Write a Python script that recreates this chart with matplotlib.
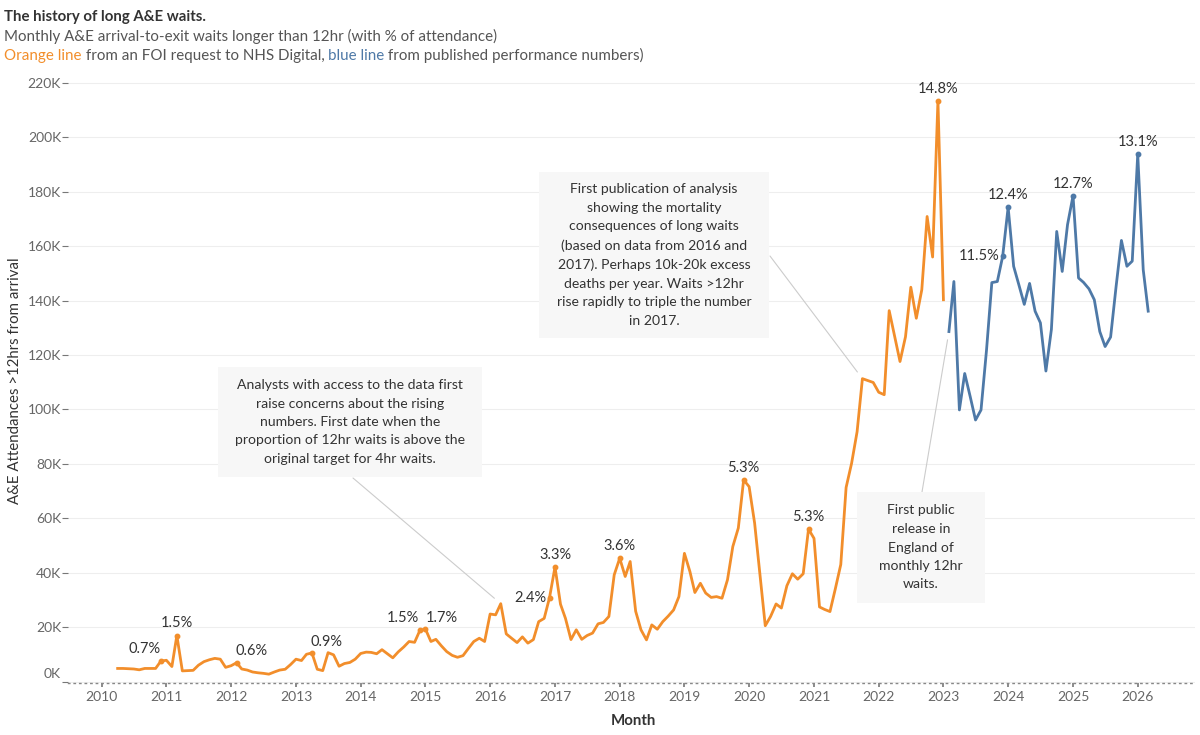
import numpy as np
import pandas as pd
import matplotlib
matplotlib.use("Agg")
import matplotlib.pyplot as plt
import matplotlib.dates as mdates
import matplotlib.transforms as mtransforms
from matplotlib.ticker import FuncFormatter
from matplotlib.patches import Rectangle

plt.rcParams['font.family'] = ['Lato', 'DejaVu Sans']

# monthly waits >12hr from arrival, thousands
orange_start = "2010-04-01"
orange_vals = [
    4.8, 4.8, 4.7, 4.6, 4.3, 4.8, 4.8, 4.8, 7.5,            # 2010 Apr-Dec
    7.8, 5.5, 16.9, 3.9, 4.0, 4.1, 6.0, 7.3, 8.0, 8.5, 8.2, 5.2,   # 2011
    5.8, 6.9, 4.6, 4.2, 3.5, 3.2, 3.0, 2.7, 3.5, 4.2, 4.5, 6.2,    # 2012
    8.2, 7.7, 10.0, 10.5, 4.5, 4.0, 10.6, 9.8, 5.6, 6.6, 7.0, 8.2,  # 2013
    10.3, 10.8, 10.7, 10.2, 11.7, 10.2, 8.7, 10.9, 12.7, 14.7, 14.4, 18.8,  # 2014
    19.3, 14.7, 15.5, 13.1, 11.0, 9.6, 8.9, 9.5, 12.2, 14.7, 15.9, 14.7,   # 2015
    24.8, 24.5, 28.6, 17.5, 15.9, 14.3, 16.4, 14.1, 15.4, 22.0, 23.2, 30.8,  # 2016
    42.1, 28.4, 23.2, 15.4, 19.0, 15.5, 16.9, 17.8, 21.2, 21.7, 23.9, 39.2,  # 2017
    45.3, 38.6, 44.1, 25.8, 19.0, 15.3, 20.8, 19.2, 22.0, 24.0, 26.3, 31.2,  # 2018
    47.1, 40.4, 32.7, 36.1, 32.5, 30.9, 31.2, 30.6, 37.4, 49.6, 56.4, 74.1,  # 2019
    71.6, 58.2, 39.8, 20.5, 23.9, 28.5, 27.0, 35.2, 39.6, 37.6, 39.6, 56.0,  # 2020
    52.6, 27.4, 26.5, 25.7, 34.0, 43.0, 71.3, 80.2, 91.8, 111.3, 110.6, 109.9,  # 2021
    106.3, 105.4, 136.3, 126.8, 117.6, 126.7, 144.9, 133.5, 144.0, 170.9, 156.0, 213.5,  # 2022
    140.3,  # 2023 Jan
]
blue_start = "2023-02-01"
blue_vals = [
    128.6, 147.0, 99.8, 113.2, 104.7, 96.1, 99.8, 121.8, 146.6, 147.0, 156.2,  # 2023 Feb-Dec
    174.3, 152.6, 145.9, 138.6, 146.3, 136.1, 131.8, 114.1, 129.4, 165.4, 150.7, 167.9,  # 2024
    178.5, 148.3, 146.7, 144.3, 140.3, 128.6, 123.1, 126.6, 145.2, 162.1, 152.6, 154.5,  # 2025
    193.8, 151.3, 136.1,  # 2026
]

orange_label_months = ["2010-12", "2011-03", "2012-02", "2013-04", "2014-12", "2015-01",
                       "2016-12", "2017-01", "2018-01", "2019-12", "2020-12", "2022-12"]
orange_label_text = ["0.7%", "1.5%", "0.6%", "0.9%", "1.5%", "1.7%",
                     "2.4%", "3.3%", "3.6%", "5.3%", "5.3%", "14.8%"]
blue_label_months = ["2023-12", "2024-01", "2025-01", "2026-01"]
blue_label_text = ["11.5%", "12.4%", "12.7%", "13.1%"]

y_ticks = list(range(0, 221, 20))

notes = [
    "Analysts with access to the data first\nraise concerns about the rising\nnumbers. First date when the\n"
    "proportion of 12hr waits is above the\noriginal target for 4hr waits.",
    "First publication of analysis\nshowing the mortality\nconsequences of long waits\n(based on data from 2016 and\n"
    "2017). Perhaps 10k-20k excess\ndeaths per year. Waits >12hr\nrise rapidly to triple the number\nin 2017.",
    "First public\nrelease in\nEngland of\nmonthly 12hr\nwaits.",
]
note_months = ["2016-03", "2021-10", "2023-02"]

ORANGE = "#F28E2B"
BLUE = "#4E79A7"
W, H = 1200, 735

orange = pd.Series(orange_vals, index=pd.date_range(orange_start, periods=len(orange_vals), freq="MS"))
blue = pd.Series(blue_vals, index=pd.date_range(blue_start, periods=len(blue_vals), freq="MS"))
both = pd.concat([orange, blue])

fig = plt.figure(figsize=(12, 7.35), dpi=100)


def fx(x):
    return x / W


def fy(y):
    return 1 - y / H


ax = fig.add_axes([fx(68), fy(683), (1195 - 68) / W, (683 - 72) / H])
ax.plot(orange.index, orange.values, color=ORANGE, lw=2.0, solid_joinstyle="round")
ax.plot(blue.index, blue.values, color=BLUE, lw=2.0, solid_joinstyle="round")

ax.set_xlim(pd.Timestamp("2009-06-25"), pd.Timestamp("2026-11-20"))
ax.set_ylim(-0.55, 224)

# percentage labels
offsets_o = [(-16, 12, "center"), (0, 13, "center"), (15, 12, "center"), (15, 11, "center"),
             (-17, 12, "center"), (16, 11, "center"), (-3, 0, "right"), (0, 12, "center"),
             (0, 12, "center"), (0, 12, "center"), (0, 12, "center"), (0, 12, "center")]
offsets_b = [(-3, 0, "right"), (0, 12, "center"), (0, 12, "center"), (0, 12, "center")]
for series, months, texts, offs, col in [(orange, orange_label_months, orange_label_text, offsets_o, ORANGE),
                                         (blue, blue_label_months, blue_label_text, offsets_b, BLUE)]:
    for mth, txt, (dx, dy, ha) in zip(months, texts, offs):
        d = pd.Timestamp(mth + "-01")
        v = series[d]
        ax.plot([d], [v], "o", color=col, ms=3.2, zorder=3)
        ax.annotate(txt, xy=(d, v), xytext=(dx, dy), textcoords="offset pixels",
                    ha=ha, va="center", fontsize=10.5, color="#333333")

# note boxes: (left, top, right, bottom) in pixels, leader start in pixels
boxes = [(218, 367, 482, 477), (539, 172, 769, 338), (857, 492, 985, 603)]
leader_from = [(353, 478), (770, 256), (922, 492)]
for txt, mth, (l, tp, r, b), (lx, ly) in zip(notes, note_months, boxes, leader_from):
    fig.patches.append(Rectangle((fx(l), fy(b)), fx(r - l), (b - tp) / H, transform=fig.transFigure,
                                 facecolor="#f7f7f7", edgecolor="none", zorder=1))
    fig.text(fx((l + r) / 2), fy((tp + b) / 2), txt, ha="center", va="center", multialignment="center",
             fontsize=10.1, color="#333333", linespacing=1.65, zorder=2)
    d = pd.Timestamp(mth + "-01")
    ax.annotate("", xy=(d, both[d]), xytext=(fx(lx), fy(ly)), textcoords="figure fraction",
                arrowprops=dict(arrowstyle="-", color="#cccccc", lw=0.8, shrinkA=0, shrinkB=6),
                annotation_clip=False)

# axes styling
for s in ["top", "right", "left"]:
    ax.spines[s].set_visible(False)
ax.spines["bottom"].set_linestyle((0, (1, 3)))
ax.spines["bottom"].set_color("#888888")
ax.spines["bottom"].set_linewidth(1.0)

ax.xaxis.set_major_locator(mdates.YearLocator())
ax.xaxis.set_major_formatter(mdates.DateFormatter("%Y"))
ax.tick_params(axis="x", which="major", length=3, width=1.2, color="#777777", labelsize=10,
               labelcolor="#666666", pad=2.5)

ax.set_yticks(y_ticks)
ax.yaxis.set_major_formatter(FuncFormatter(lambda v, p: f"{v:.0f}K"))
ax.tick_params(axis="y", length=4, color="#777777", labelsize=10, labelcolor="#666666", pad=1)
ax.yaxis.grid(True, color="#eeeeee", lw=0.8)
ax.set_axisbelow(True)
# Tableau lifts the bottom label above the axis line
zero_lab = ax.yaxis.get_major_ticks()[0].label1
zero_lab.set_transform(zero_lab.get_transform() +
                       mtransforms.ScaledTranslation(0, 9 / 100, fig.dpi_scale_trans))

fig.text(fx(15), fy(381), "A&E Attendances >12hrs from arrival", rotation=90,
         ha="center", va="center", fontsize=10.8, color="#333333")
fig.text(fx(633), fy(721), "Month", ha="center", va="center", fontsize=10.8,
         color="#333333", weight="bold")

# titles
fig.text(fx(4), fy(17), "The history of long A&E waits.", ha="left", va="center",
         fontsize=10.8, weight="bold", color="#333333")
fig.text(fx(4), fy(36), "Monthly A&E arrival-to-exit waits longer than 12hr (with % of attendance)",
         ha="left", va="center", fontsize=10.9, color="#555555")
t = fig.text(fx(4), fy(63), "Orange line", ha="left", va="bottom", fontsize=10.9, color=ORANGE)
for piece, col in [(" from an FOI request to NHS Digital, ", "#555555"), ("blue line", BLUE),
                   (" from published performance numbers)", "#555555")]:
    t = ax.annotate(piece, xy=(1, 0), xycoords=t, ha="left", va="bottom",
                    fontsize=10.9, color=col, annotation_clip=False)

fig.savefig("out.png", dpi=100, facecolor="white")
